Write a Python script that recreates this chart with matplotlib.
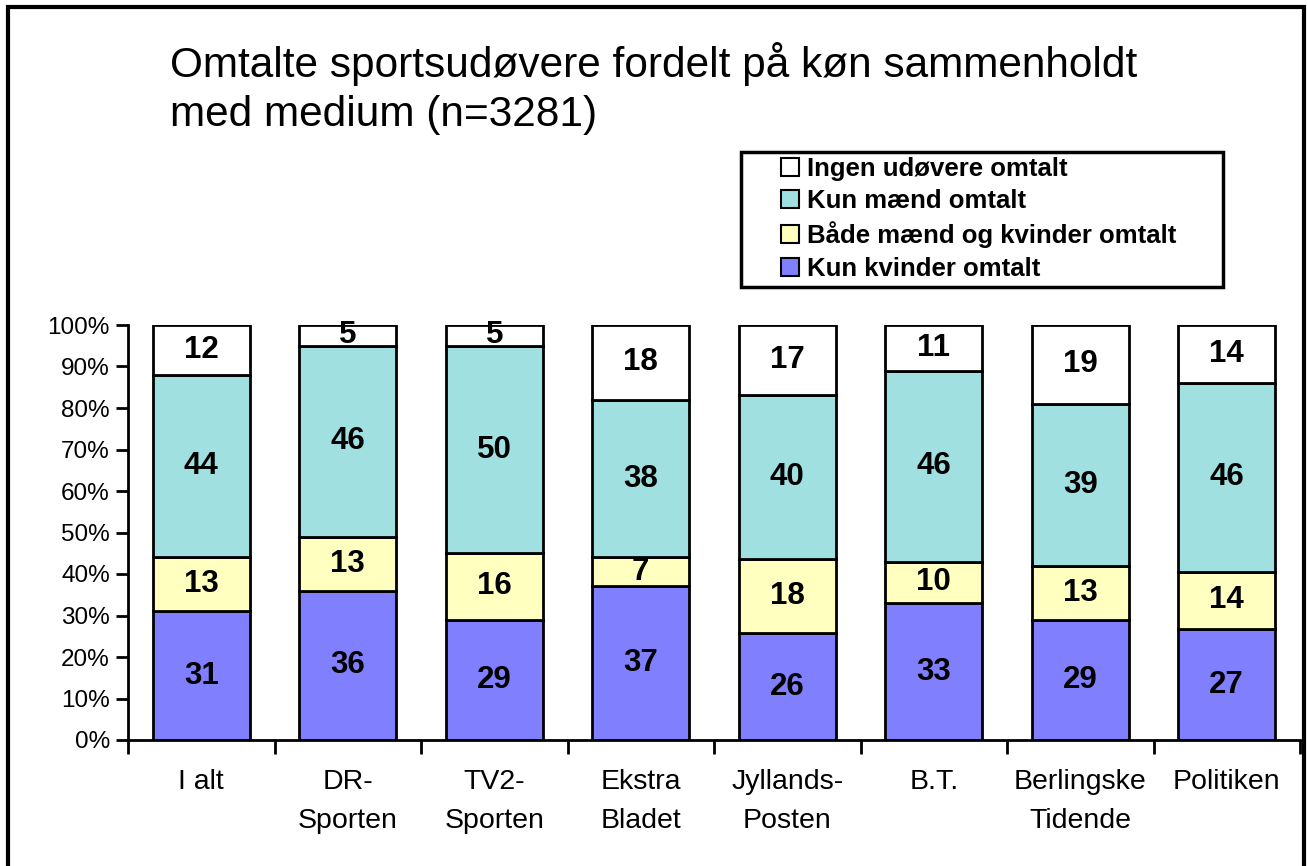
import matplotlib
matplotlib.use("Agg")
import matplotlib.pyplot as plt
from matplotlib.patches import Rectangle, Patch
import numpy as np

plt.rcParams['font.family'] = ['Liberation Sans', 'DejaVu Sans']

categories = ["I alt", "DR-\nSporten", "TV2-\nSporten", "Ekstra\nBladet", "Jyllands-\nPosten",
              "B.T.", "Berlingske\nTidende", "Politiken"]
series_names = ["Kun kvinder omtalt", "Både mænd og kvinder omtalt", "Kun mænd omtalt", "Ingen udøvere omtalt"]
kun_kvinder = [31, 36, 29, 37, 26, 33, 29, 27]
baade = [13, 13, 16, 7, 18, 10, 13, 14]
kun_maend = [44, 46, 50, 38, 40, 46, 39, 46]
ingen = [12, 5, 5, 18, 17, 11, 19, 14]
colors = ["#8080FF", "#FFFFC0", "#A0E0E0", "#FFFFFF"]

data = np.array([kun_kvinder, baade, kun_maend, ingen], dtype=float)
pct = data / data.sum(axis=0) * 100

W, H = 1308, 866
fig = plt.figure(figsize=(W / 100, H / 100), dpi=100)
ax = fig.add_axes([128/W, 1-740/H, (1300-128)/W, (740-325)/H])

x = np.arange(len(categories))
bottom = np.zeros(len(categories))
handles = []
for i in range(4):
    ax.bar(x, pct[i], bottom=bottom, width=0.66, color=colors[i], edgecolor='black', linewidth=2, zorder=2)
    for j in range(len(categories)):
        ax.text(x[j], bottom[j] + pct[i][j] / 2, f"{int(data[i][j])}", ha='center', va='center',
                fontsize=22.5, fontweight='bold', zorder=3)
    bottom += pct[i]
    handles.append(Patch(facecolor=colors[i], edgecolor='black', linewidth=1.5, label=series_names[i]))

ax.set_xlim(-0.5, len(categories) - 0.5)
ax.set_ylim(0, 100)
ax.set_yticks(np.arange(0, 101, 10))
ax.set_yticklabels([f"{v}%" for v in range(0, 101, 10)], fontsize=17.5)
ax.set_xticks(np.arange(-0.5, len(categories), 1.0))
ax.set_xticklabels([])
ax.set_xticks(x, minor=True)
ax.set_xticklabels(categories, minor=True, fontsize=20.5, linespacing=1.62)
ax.tick_params(axis='x', which='minor', length=0, pad=21)
ax.tick_params(axis='x', which='major', length=10, width=2, direction='out')
ax.tick_params(axis='y', length=9, width=2, direction='out', pad=4)
for s in ['top', 'right']:
    ax.spines[s].set_visible(False)
for s in ['left', 'bottom']:
    ax.spines[s].set_linewidth(2)

fig.text(170/W, 1-42/H, "Omtalte sportsudøvere fordelt på køn sammenholdt\nmed medium (n=3281)",
         fontsize=30.5, va='top', ha='left', linespacing=1.3)

# legend frame
fig.patches.append(Rectangle((741/W, 1-287/H), (1223-741)/W, (287-152)/H, transform=fig.transFigure,
                             fill=True, facecolor='white', edgecolor='black', linewidth=2.5, zorder=1))
leg = fig.legend(handles[::-1], [h.get_label() for h in handles[::-1]],
                 loc='upper left', bbox_to_anchor=(781/W, 1-157/H),
                 prop={'weight': 'bold', 'size': 18.5}, frameon=False,
                 handlelength=0.7, handleheight=0.7, handletextpad=0.3,
                 labelspacing=0.32, borderpad=0, borderaxespad=0)
leg.set_zorder(5)

fig.patches.append(Rectangle((8/W, -0.05), (1304-8)/W, 1.05 - 7/H, transform=fig.transFigure,
                             fill=False, edgecolor='black', linewidth=3))

fig.savefig("out.png", dpi=100)
